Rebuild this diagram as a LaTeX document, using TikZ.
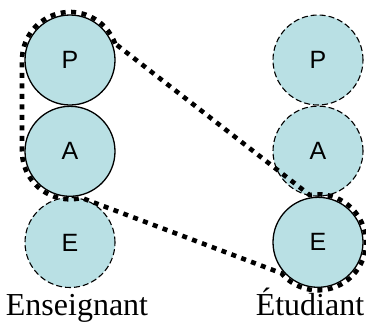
\documentclass[tikz,border=0pt]{standalone}
\usepackage{fontspec}
\setmainfont{Liberation Serif}
\newfontfamily\arialfont{Liberation Sans}
\usetikzlibrary{positioning}
\usetikzlibrary{calc}
\definecolor{pale}{RGB}{185,224,228}
\begin{document}
\begin{tikzpicture}
[
	x=1pt, y=1pt,
	node distance = 0pt,
	role/.style={draw, circle, fill=pale, line width=1.3pt, minimum size=90pt, inner sep=0pt, font=\arialfont\fontsize{25}{28}\selectfont},
	absent/.style={role, dashed, line width=1.1pt, dash pattern=on 6pt off 3pt},
	who/.style={font=\fontsize{32}{36}\selectfont, inner sep=0pt, anchor=base},
	hull/.style={line width=4.6pt, dash pattern=on 5pt off 5.5pt}
  ]
	\useasboundingbox (0,0) rectangle (366,-327);

	\node[role] (PE) at (70,-60) {P};
	\node[role, below=of PE] (AE) {A};
	\node[absent, below=of AE] (EE) {E};

	\node[absent] (PS) at (318,-60) {P};
	\node[absent, below=of PS] (AS) {A};
	\node[role, below=of AS] (ES) {E};

	\node[who] (Ens) at (77,-315) {Enseignant};
	\node[who] (Etu) at (310,-315) {Étudiant};

	\draw[hull] ($(PE)+(20:48)$) arc[start angle=20, end angle=180, radius=48]
		-- ($(AE)+(180:48)$) arc[start angle=180, end angle=284, radius=48]
		-- ($(ES)+(220:48)$) arc[start angle=220, end angle=460, radius=48]
		-- cycle;
\end{tikzpicture}
\end{document}
